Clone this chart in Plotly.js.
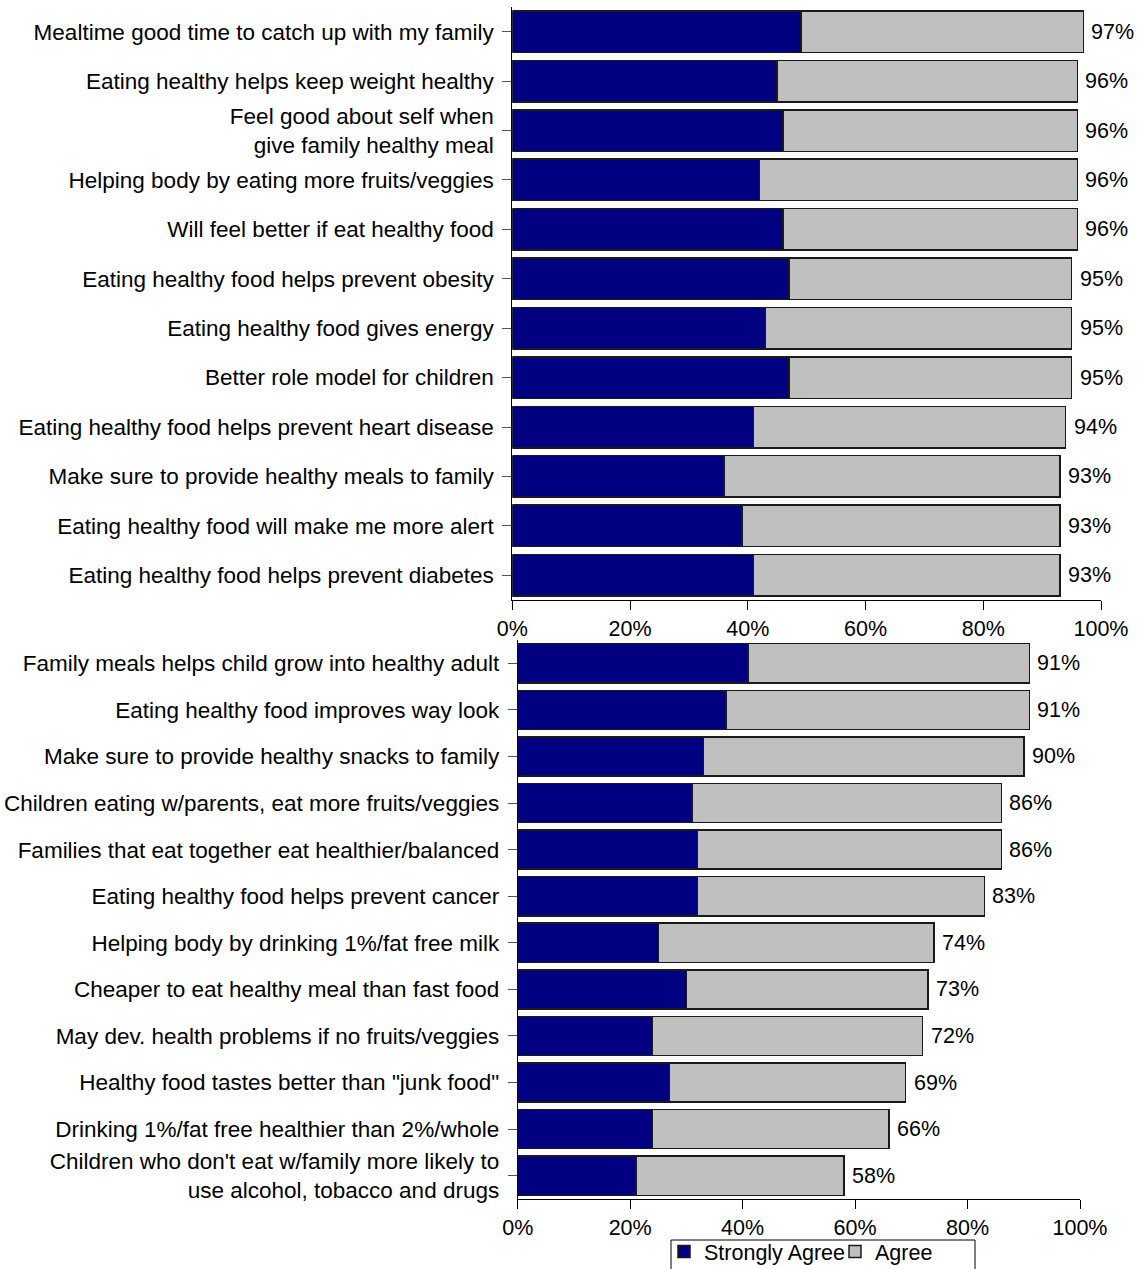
<!DOCTYPE html>
<html>
<head>
<meta charset="utf-8">
<script src="https://cdn.plot.ly/plotly-3.0.1.min.js"></script>
<style>html,body{margin:0;padding:0;background:#fff;}#chart{width:1138px;height:1269px;}</style>
</head>
<body>
<div id="chart"></div>
<script>
// Top panel
const topCategories = [
  "Mealtime good time to catch up with my family",
  "Eating healthy helps keep weight healthy",
  "Feel good about self when<br>give family healthy meal",
  "Helping body by eating more fruits/veggies",
  "Will feel better if eat healthy food",
  "Eating healthy food helps prevent obesity",
  "Eating healthy food gives energy",
  "Better role model for children",
  "Eating healthy food helps prevent heart disease",
  "Make sure to provide healthy meals to family",
  "Eating healthy food will make me more alert",
  "Eating healthy food helps prevent diabetes"
];
const topStronglyAgree = [49, 45, 46, 42, 46, 47, 43, 47, 41, 36, 39, 41];
const topAgree         = [48, 51, 50, 54, 50, 48, 52, 48, 53, 57, 54, 52];
const topTotals        = [97, 96, 96, 96, 96, 95, 95, 95, 94, 93, 93, 93];

// Bottom panel
const bottomCategories = [
  "Family meals helps child grow into healthy adult",
  "Eating healthy food improves way look",
  "Make sure to provide healthy snacks to family",
  "Children eating w/parents, eat more fruits/veggies",
  "Families that eat together eat healthier/balanced",
  "Eating healthy food helps prevent cancer",
  "Helping body by drinking 1%/fat free milk",
  "Cheaper to eat healthy meal than fast food",
  "May dev. health problems if no fruits/veggies",
  "Healthy food tastes better than \"junk food\"",
  "Drinking 1%/fat free healthier than 2%/whole",
  "Children who don't eat w/family more likely to<br>use alcohol, tobacco and drugs"
];
const bottomStronglyAgree = [41, 37, 33, 31, 32, 32, 25, 30, 24, 27, 24, 21];
const bottomAgree         = [50, 54, 57, 55, 54, 51, 49, 43, 48, 42, 42, 37];
const bottomTotals        = [91, 91, 90, 86, 86, 83, 74, 73, 72, 69, 66, 58];

const seriesNames = ["Strongly Agree", "Agree"];
const xTicks = [0, 20, 40, 60, 80, 100];

const NAVY = "#000080", GRAY = "#C0C0C0";
const FONT = "Liberation Sans, Arial, sans-serif";
const FS_Y = 22.5;
const FS = 21.5;
const outline = {color: "#1a1a1a", width: 1.5};

const traces = [
  {type: "bar", orientation: "h", name: seriesNames[0], x: topStronglyAgree, y: topCategories,
   xaxis: "x", yaxis: "y", marker: {color: NAVY, line: outline}, legendgroup: "sa", hoverinfo: "x+y"},
  {type: "bar", orientation: "h", name: seriesNames[1], x: topAgree, y: topCategories,
   xaxis: "x", yaxis: "y", marker: {color: GRAY, line: outline}, legendgroup: "a", hoverinfo: "x+y"},
  {type: "bar", orientation: "h", name: seriesNames[0], x: bottomStronglyAgree, y: bottomCategories,
   xaxis: "x2", yaxis: "y2", marker: {color: NAVY, line: outline}, legendgroup: "sa", showlegend: false, hoverinfo: "x+y"},
  {type: "bar", orientation: "h", name: seriesNames[1], x: bottomAgree, y: bottomCategories,
   xaxis: "x2", yaxis: "y2", marker: {color: GRAY, line: outline}, legendgroup: "a", showlegend: false, hoverinfo: "x+y"}
];

const annotations = [];
topTotals.forEach((t, i) => annotations.push({
  x: t, y: topCategories[i], xref: "x", yref: "y", text: t + "%", showarrow: false,
  xanchor: "left", xshift: 6, font: {family: FONT, size: FS, color: "#000"}
}));
bottomTotals.forEach((t, i) => annotations.push({
  x: t, y: bottomCategories[i], xref: "x2", yref: "y2", text: t + "%", showarrow: false,
  xanchor: "left", xshift: 6, font: {family: FONT, size: FS, color: "#000"}
}));

const W = 1138, H = 1269;
function xAxis(d0, d1, anchor) {
  return {
    domain: [d0 / W, d1 / W], anchor: anchor, range: [0, 100],
    tickvals: xTicks, ticktext: xTicks.map(v => v + "%"),
    ticks: "outside", ticklen: 9, tickwidth: 1, tickcolor: "#000",
    showline: true, linecolor: "#000", linewidth: 1,
    showgrid: false, zeroline: false, fixedrange: true,
    ticklabelstandoff: 0,
    tickfont: {family: FONT, size: FS, color: "#000"}
  };
}
function yAxis(top, bottom, anchor) {
  return {
    domain: [1 - bottom / H, 1 - top / H], anchor: anchor, type: "category",
    autorange: "reversed",
    ticks: "outside", ticklen: 9, tickwidth: 1, tickcolor: "#555",
    showline: true, linecolor: "#000", linewidth: 1,
    showgrid: false, zeroline: false, fixedrange: true,
    ticklabelstandoff: 4,
    tickfont: {family: FONT, size: FS_Y, color: "#000"}
  };
}

const layout = {
  width: W, height: H,
  margin: {l: 0, r: 0, t: 0, b: 0, autoexpand: false},
  paper_bgcolor: "#fff", plot_bgcolor: "#fff",
  barmode: "stack", bargap: 0.16,
  font: {family: FONT, size: FS, color: "#000"},
  xaxis: xAxis(512.3, 1101, "y"),
  yaxis: yAxis(7, 600, "x"),
  xaxis2: xAxis(517.7, 1080, "y2"),
  yaxis2: yAxis(640, 1199, "x2"),
  annotations: annotations,
  // legend frame (extends past the bottom edge as in the reference)
  shapes: [{
    type: "rect", xref: "paper", yref: "paper",
    x0: 671 / W, x1: 975 / W, y0: -20 / H, y1: 1 - 1240 / H,
    line: {color: "#000", width: 1}, fillcolor: "rgba(0,0,0,0)", layer: "above"
  }],
  showlegend: true,
  legend: {
    orientation: "h", x: 664 / W, xanchor: "left", y: 1 - 1231 / H, yanchor: "top",
    borderwidth: 0, bgcolor: "rgba(0,0,0,0)",
    font: {family: FONT, size: FS, color: "#000"},
    itemwidth: 30, entrywidth: 126, traceorder: "normal"
  }
};

Plotly.newPlot("chart", traces, layout, {displayModeBar: false, staticPlot: true});
</script>
</body>
</html>
